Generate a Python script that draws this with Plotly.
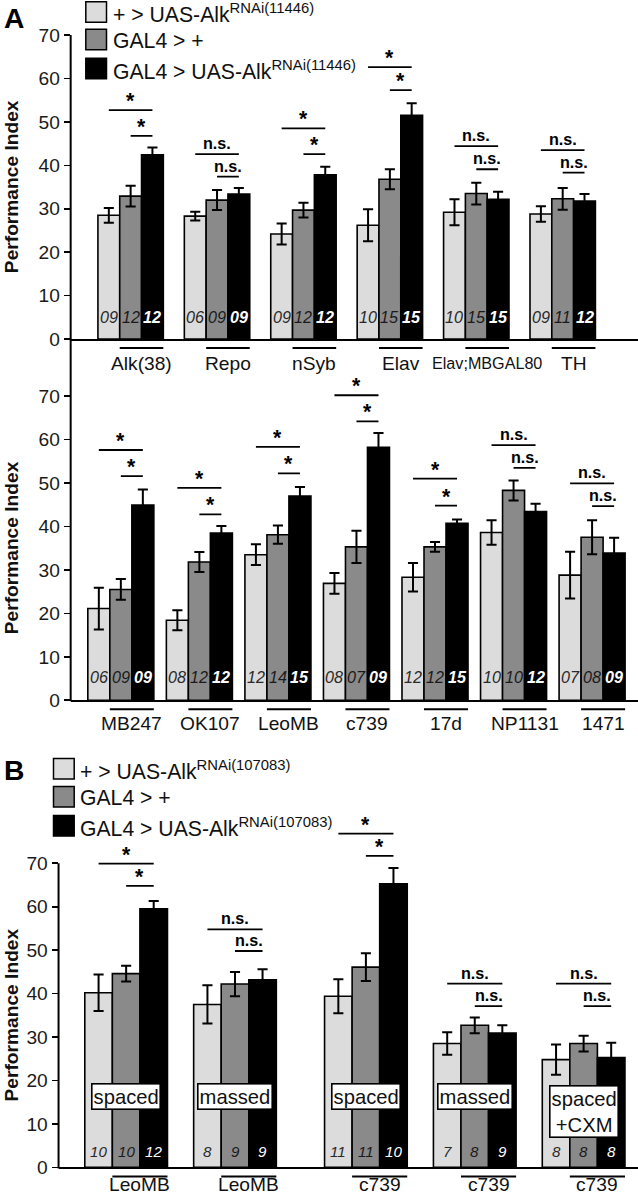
import plotly.graph_objects as go

# Reference pixel geometry (638x1199). The photographed viewport is about 1%
# larger than the nominal window, so everything is laid out at scale S.
W, H = 638, 1199
S = 1.0095
FW, FH = round(W * S), round(H * S)
FONT = "Liberation Sans"
LIGHT, GRAY, BLACK = "#dcdcdc", "#8a8a8a", "#000000"

# ---------------- data: panel A (top) ----------------
A1_labels = ["Alk(38)", "Repo", "nSyb", "Elav", "Elav;MBGAL80", "TH"]
A1_ctrl1 = [28.5, 28.3, 24.2, 26.2, 29.2, 28.8]
A1_ctrl1_err = [1.7, 1.0, 2.4, 3.7, 3.0, 1.8]
A1_ctrl2 = [32.9, 32.0, 29.7, 36.8, 33.5, 32.3]
A1_ctrl2_err = [2.4, 2.3, 1.7, 2.3, 2.5, 2.5]
A1_rnai = [42.4, 33.4, 37.8, 51.5, 32.2, 31.8]
A1_rnai_err = [1.7, 1.4, 1.9, 2.8, 1.7, 1.6]
A1_n1 = ["09", "06", "09", "10", "10", "09"]
A1_n2 = ["12", "09", "12", "15", "15", "11"]
A1_n3 = ["12", "09", "12", "15", "15", "12"]
A1_sig = ["*", "n.s.", "*", "*", "n.s.", "n.s."]
A1_sig_long = [52.7, 42.6, 48.5, 62.6, 44.4, 43.5]
A1_sig_short = [46.8, 37.4, 42.6, 57.3, 39.1, 38.3]

# ---------------- data: panel A (bottom) ----------------
A2_labels = ["MB247", "OK107", "LeoMB", "c739", "17d", "NP1131", "1471"]
A2_ctrl1 = [21.1, 18.4, 33.5, 26.9, 28.3, 38.6, 28.8]
A2_ctrl1_err = [4.8, 2.3, 2.4, 2.4, 3.3, 2.8, 5.4]
A2_ctrl2 = [25.5, 31.8, 38.1, 35.3, 35.3, 48.3, 37.5]
A2_ctrl2_err = [2.4, 2.3, 2.1, 3.7, 1.1, 2.3, 3.9]
A2_rnai = [44.9, 38.5, 47.0, 58.2, 40.7, 43.4, 33.9]
A2_rnai_err = [3.6, 1.6, 2.1, 3.3, 0.9, 1.8, 3.5]
A2_n1 = ["06", "08", "12", "08", "12", "10", "07"]
A2_n2 = ["09", "12", "14", "07", "12", "10", "08"]
A2_n3 = ["09", "12", "15", "09", "15", "12", "09"]
A2_sig = ["*", "*", "*", "*", "*", "n.s.", "n.s."]
A2_sig_long = [57.6, 48.9, 58.3, 70.2, 51.0, 58.7, 49.9]
A2_sig_short = [51.6, 42.8, 52.2, 64.2, 44.8, 53.5, 44.7]

# ---------------- data: panel B ----------------
B_labels = ["LeoMB", "LeoMB", "c739", "c739", "c739"]
B_protocol = ["spaced", "massed", "spaced", "massed", "spaced<br>+CXM"]
B_ctrl1 = [40.2, 37.5, 39.4, 28.5, 24.8]
B_ctrl1_err = [4.2, 4.4, 3.9, 2.6, 3.5]
B_ctrl2 = [44.6, 42.2, 46.1, 32.7, 28.5]
B_ctrl2_err = [1.8, 2.8, 3.2, 1.8, 1.8]
B_rnai = [59.5, 43.2, 65.3, 30.9, 25.3]
B_rnai_err = [1.8, 2.4, 3.6, 1.8, 3.4]
B_n1 = ["10", "8", "11", "7", "8"]
B_n2 = ["10", "9", "11", "8", "8"]
B_n3 = ["12", "9", "10", "9", "8"]
B_sig = ["*", "n.s.", "*", "n.s.", "n.s."]
B_sig_long = [69.9, 54.8, 76.8, 42.3, 42.3]
B_sig_short = [64.8, 49.8, 71.7, 37.1, 37.1]

yticks = [0, 10, 20, 30, 40, 50, 60, 70]

legend_A = ["+ &gt; UAS-Alk<sup>RNAi(11446)</sup>", "GAL4 &gt; +",
            "GAL4 &gt; UAS-Alk<sup>RNAi(11446)</sup>"]
legend_B = ["+ &gt; UAS-Alk<sup>RNAi(107083)</sup>", "GAL4 &gt; +",
            "GAL4 &gt; UAS-Alk<sup>RNAi(107083)</sup>"]


def px(x):
    return x * S / FW


def py(y):
    return 1 - y * S / FH


def fs(size):
    return size * S


PPU = 4.343  # reference pixels per PI unit

panels = [
    dict(labels=A1_labels, vals=[A1_ctrl1, A1_ctrl2, A1_rnai],
         errs=[A1_ctrl1_err, A1_ctrl2_err, A1_rnai_err],
         ns=[A1_n1, A1_n2, A1_n3], sig=A1_sig, long=A1_sig_long, short=A1_sig_short,
         gaps=[0.963] * 5, ax_left=70, ax_right=635, first_px=97, bar_px=21.6,
         y0=339, ymax=76, under_px=348, label_px=363, num_y=5.0, num_size=16,
         bold_black=True, label_sizes=[19, 19, 19, 19, 16, 19], box=None),
    dict(labels=A2_labels, vals=[A2_ctrl1, A2_ctrl2, A2_rnai],
         errs=[A2_ctrl1_err, A2_ctrl2_err, A2_rnai_err],
         ns=[A2_n1, A2_n2, A2_n3], sig=A2_sig, long=A2_sig_long, short=A2_sig_short,
         gaps=[0.569] * 6, ax_left=70, ax_right=635, first_px=87, bar_px=21.8,
         y0=700, ymax=73, under_px=709, label_px=723, num_y=5.3, num_size=16,
         bold_black=True, label_sizes=[19] * 7, box=None),
    dict(labels=B_labels, vals=[B_ctrl1, B_ctrl2, B_rnai],
         errs=[B_ctrl1_err, B_ctrl2_err, B_rnai_err],
         ns=[B_n1, B_n2, B_n3], sig=B_sig, long=B_sig_long, short=B_sig_short,
         gaps=[0.95, 1.75, 0.95, 0.95], ax_left=58, ax_right=637, first_px=84, bar_px=27.3,
         y0=1167, ymax=78, under_px=1176, label_px=1184, num_y=3.6, num_size=15,
         bold_black=False, label_sizes=[19] * 5, box=B_protocol),
]

fig = go.Figure()
shapes, annotations = [], []
layout = {}
colors = [LIGHT, GRAY, BLACK]
num_colors = ["#2a2a2a", "#1a1a1a", "#ffffff"]

for i, p in enumerate(panels):
    suf = "" if i == 0 else str(i + 1)
    xa, ya = "x" + suf, "y" + suf
    starts = [0.0]
    for g in p["gaps"]:
        starts.append(starts[-1] + 3 + g)
    bw = p["bar_px"]
    x_lo = (p["ax_left"] - p["first_px"]) / bw - 0.5
    x_hi = (p["ax_right"] - p["first_px"]) / bw - 0.5

    for k in range(3):
        fig.add_trace(go.Bar(
            x=[s + k for s in starts], y=p["vals"][k], width=1,
            marker=dict(color=colors[k], line=dict(color="black", width=1.6)),
            error_y=dict(type="data", array=p["errs"][k], color="black",
                         thickness=2, width=5 * S),
            xaxis=xa, yaxis=ya, showlegend=False, hoverinfo="skip"))
        for g, s in enumerate(starts):
            annotations.append(dict(
                x=s + k, y=p["num_y"], xref=xa, yref=ya, text=p["ns"][k][g],
                showarrow=False, xanchor="center", yanchor="middle",
                font=dict(family=FONT, size=fs(p["num_size"]), color=num_colors[k],
                          style="italic",
                          weight="bold" if (k == 2 and p["bold_black"]) else "normal")))

    layout["xaxis" + suf] = dict(
        domain=[px(p["ax_left"]), min(1.0, px(p["ax_right"]))], range=[x_lo, x_hi],
        showline=True, linecolor="black", linewidth=2, showticklabels=False,
        ticks="", showgrid=False, zeroline=False, anchor=ya, fixedrange=True)
    layout["yaxis" + suf] = dict(
        domain=[py(p["y0"]), py(p["y0"] - p["ymax"] * PPU)], range=[0, p["ymax"]],
        tickvals=yticks, ticks="outside", ticklen=6, tickwidth=1.6, tickcolor="black",
        showline=False, showgrid=False, zeroline=False, anchor=xa, fixedrange=True,
        tickfont=dict(family=FONT, size=fs(19), color="#1a1a1a"))

    for g, s in enumerate(starts):
        # significance brackets
        for x0, yv, xc in [(s, p["long"][g], s + 1), (s + 1, p["short"][g], s + 1.5)]:
            shapes.append(dict(type="line", xref=xa, yref=ya, x0=x0, x1=s + 2,
                               y0=yv, y1=yv, line=dict(color="black", width=1.8)))
            star = p["sig"][g] == "*"
            annotations.append(dict(
                x=xc, y=yv, xref=xa, yref=ya, text=p["sig"][g], showarrow=False,
                xanchor="center", yanchor="bottom", yshift=-4 if star else 0,
                font=dict(family=FONT, size=fs(21 if star else 16), color="black",
                          weight="bold")))
        # group underline and label
        shapes.append(dict(type="line", xref=xa, yref="paper", x0=s + 0.5, x1=s + 2.5,
                           y0=py(p["under_px"]), y1=py(p["under_px"]),
                           line=dict(color="black", width=2)))
        annotations.append(dict(
            x=s + 1.5, y=py(p["label_px"]), xref=xa, yref="paper", text=p["labels"][g],
            showarrow=False, xanchor="center", yanchor="middle",
            font=dict(family=FONT, size=fs(p["label_sizes"][g]), color="#111111")))
        if p["box"]:
            two = "<br>" in p["box"][g]
            annotations.append(dict(
                x=s + 1, y=12.8 if two else 16.3, xref=xa, yref=ya, text=p["box"][g],
                showarrow=False, xanchor="center", yanchor="middle", bgcolor="white",
                bordercolor="black", borderwidth=1.6, borderpad=1,
                font=dict(family=FONT, size=fs(20), color="#111111")))

    # y axis title
    annotations.append(dict(
        x=px(11), y=py(p["y0"] - 35 * PPU), xref="paper", yref="paper",
        text="Performance Index", textangle=-90, showarrow=False,
        xanchor="center", yanchor="middle",
        font=dict(family=FONT, size=fs(19), color="#111111", weight="bold")))

# continuous vertical axis lines
shapes.append(dict(type="line", xref="paper", yref="paper", x0=px(70), x1=px(70),
                   y0=py(701), y1=py(339 - 70 * PPU), line=dict(color="black", width=2)))
shapes.append(dict(type="line", xref="paper", yref="paper", x0=px(58), x1=px(58),
                   y0=py(1168), y1=py(1167 - 70 * PPU), line=dict(color="black", width=2)))

# legends
for labels, sq_x, rows, tx in [(legend_A, 85, [12, 39.5, 68.5], 110),
                               (legend_B, 53, [768.5, 796.5, 825.5], 77)]:
    for k, (lab, yc) in enumerate(zip(labels, rows)):
        shapes.append(dict(type="rect", xref="paper", yref="paper",
                           x0=px(sq_x), x1=px(sq_x + 20.5), y0=py(yc + 10.3), y1=py(yc - 10.3),
                           fillcolor=colors[k], line=dict(color="black", width=1.5)))
        annotations.append(dict(x=px(tx), y=py(yc + 1), xref="paper", yref="paper",
                                text=lab, showarrow=False, xanchor="left", yanchor="middle",
                                font=dict(family=FONT, size=fs(21), color="#111111")))

# panel letters
for letter, yc in [("A", 18), ("B", 770)]:
    annotations.append(dict(x=px(2), y=py(yc), xref="paper", yref="paper", text=letter,
                            showarrow=False, xanchor="left", yanchor="middle",
                            font=dict(family=FONT, size=fs(28), color="black", weight="bold")))

fig.update_layout(
    width=FW, height=FH, margin=dict(l=0, r=0, t=0, b=0),
    paper_bgcolor="white", plot_bgcolor="white", barmode="overlay",
    shapes=shapes, annotations=annotations, **layout)

fig.write_html("out.html", config={"displayModeBar": False, "staticPlot": True},
               post_script="document.body.style.margin='0';")
